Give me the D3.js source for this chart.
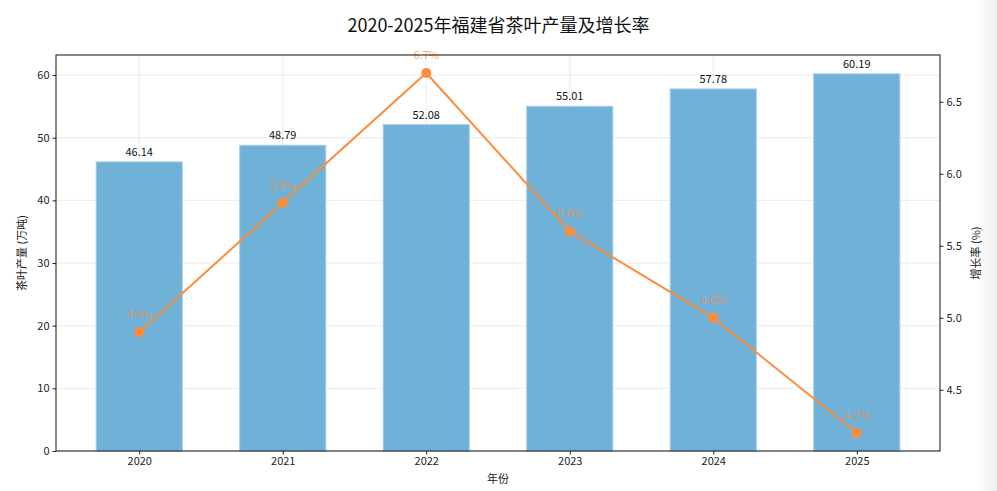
<!DOCTYPE html>
<html>
<head>
<meta charset="utf-8">
<script src="https://cdn.jsdelivr.net/npm/d3@7"></script>
<style>
  body { margin: 0; background: #fff; }
  text { font-family: "Noto Sans CJK SC", "Noto Sans", sans-serif; }
</style>
</head>
<body>
<script>
let width = 997
let height = 491

const years = ['2020', '2021', '2022', '2023', '2024', '2025']
const output = [46.14, 48.79, 52.08, 55.01, 57.78, 60.19]
const growth = [4.9, 5.8, 6.7, 5.6, 5.0, 4.2]
const leftTicks = [0, 10, 20, 30, 40, 50, 60]
const rightTicks = [4.5, 5.0, 5.5, 6.0, 6.5]

const margin = { left: 56, right: 57, top: 55, bottom: 40 }
const x0 = margin.left, x1 = width - margin.right
const y0 = height - margin.bottom, y1 = margin.top

let svg = d3.select('body')
  .append('svg')
  .attr('width', width)
  .attr('height', height)

// 页面右侧的浅灰阴影
let grad = svg.append('defs').append('linearGradient').attr('id', 'shade')
grad.append('stop').attr('offset', '0%').attr('stop-color', '#fff')
grad.append('stop').attr('offset', '100%').attr('stop-color', '#eeeeee')
svg.append('rect').attr('x', 975).attr('y', 0).attr('width', 22).attr('height', height).attr('fill', 'url(#shade)')

// 类别轴，matplotlib 风格的留白
let x = d3.scaleLinear().domain([-0.58, years.length - 1 + 0.58]).range([x0, x1])
let y = d3.scaleLinear().domain([0, d3.max(output) * 1.05]).range([y0, y1])
let gMin = d3.min(growth), gMax = d3.max(growth), gPad = (gMax - gMin) * 0.05
let yr = d3.scaleLinear().domain([gMin - gPad, gMax + gPad]).range([y0, y1])
const barW = x(0.6) - x(0)

// 网格
let grid = svg.append('g')
grid.selectAll('.hg').data(leftTicks).enter().append('line')
  .attr('x1', x0).attr('x2', x1)
  .attr('y1', d => y(d)).attr('y2', d => y(d))
  .attr('stroke', '#e6e6e6').attr('stroke-width', 0.8)
grid.selectAll('.vg').data(years).enter().append('line')
  .attr('x1', (d, i) => x(i)).attr('x2', (d, i) => x(i))
  .attr('y1', y0).attr('y2', y1)
  .attr('stroke', '#e6e6e6').attr('stroke-width', 0.8)

// 柱子
svg.append('g').selectAll('rect').data(output).enter().append('rect')
  .attr('x', (d, i) => x(i) - barW / 2)
  .attr('y', d => y(d))
  .attr('width', barW)
  .attr('height', d => y0 - y(d))
  .attr('fill', '#6aaed6').attr('fill-opacity', 0.97)
  .attr('stroke', '#a6cde8').attr('stroke-width', 1)

// 柱顶数值
svg.append('g').selectAll('text').data(output).enter().append('text')
  .attr('x', (d, i) => x(i))
  .attr('y', d => y(d) - 6)
  .attr('text-anchor', 'middle')
  .attr('font-size', 11)
  .attr('fill', '#111')
  .text(d => d.toFixed(2))

// 增长率折线
let line = d3.line().x((d, i) => x(i)).y(d => yr(d))
svg.append('path').datum(growth)
  .attr('d', line)
  .attr('fill', 'none')
  .attr('stroke', '#fd8d3c')
  .attr('stroke-width', 2)
svg.append('g').selectAll('circle').data(growth).enter().append('circle')
  .attr('cx', (d, i) => x(i)).attr('cy', d => yr(d)).attr('r', 5)
  .attr('fill', '#fd8d3c')
svg.append('g').selectAll('text').data(growth).enter().append('text')
  .attr('x', (d, i) => x(i))
  .attr('y', d => yr(d) - 14)
  .attr('text-anchor', 'middle')
  .attr('font-size', 11)
  .attr('fill', '#fd8d3c').attr('fill-opacity', 0.75)
  .text(d => d.toFixed(1) + '%')

// 坐标轴
let axisL = svg.append('g').attr('transform', `translate(${x0},0)`)
  .call(d3.axisLeft(y).tickValues(leftTicks).tickSize(3.5).tickPadding(3))
let axisR = svg.append('g').attr('transform', `translate(${x1},0)`)
  .call(d3.axisRight(yr).tickValues(rightTicks).tickFormat(d3.format('.1f')).tickSize(3.5).tickPadding(3))
let axisB = svg.append('g').attr('transform', `translate(0,${y0})`)
  .call(d3.axisBottom(x).tickValues(d3.range(years.length)).tickFormat(i => years[i]).tickSize(3.5).tickPadding(3))
;[axisL, axisR, axisB].forEach(a => {
  a.selectAll('.domain').remove()
  a.selectAll('text').attr('font-size', 11).attr('fill', '#222')
  a.selectAll('line').attr('stroke', '#222')
})
svg.append('rect')
  .attr('x', x0).attr('y', y1).attr('width', x1 - x0).attr('height', y0 - y1)
  .attr('fill', 'none').attr('stroke', '#111').attr('stroke-width', 1)

// 标题与轴名
svg.append('text').attr('x', width / 2).attr('y', 32)
  .attr('text-anchor', 'middle').attr('font-size', 18).attr('fill', '#111')
  .text('2020-2025年福建省茶叶产量及增长率')
svg.append('text').attr('x', (x0 + x1) / 2).attr('y', 483)
  .attr('text-anchor', 'middle').attr('font-size', 11).attr('fill', '#222')
  .text('年份')
svg.append('text')
  .attr('transform', `translate(26,${(y0 + y1) / 2}) rotate(-90)`)
  .attr('text-anchor', 'middle').attr('font-size', 11).attr('fill', '#222')
  .text('茶叶产量 (万吨)')
svg.append('text')
  .attr('transform', `translate(980,${(y0 + y1) / 2}) rotate(-90)`)
  .attr('text-anchor', 'middle').attr('font-size', 11).attr('fill', '#222')
  .text('增长率 (%)')
</script>
</body>
</html>
